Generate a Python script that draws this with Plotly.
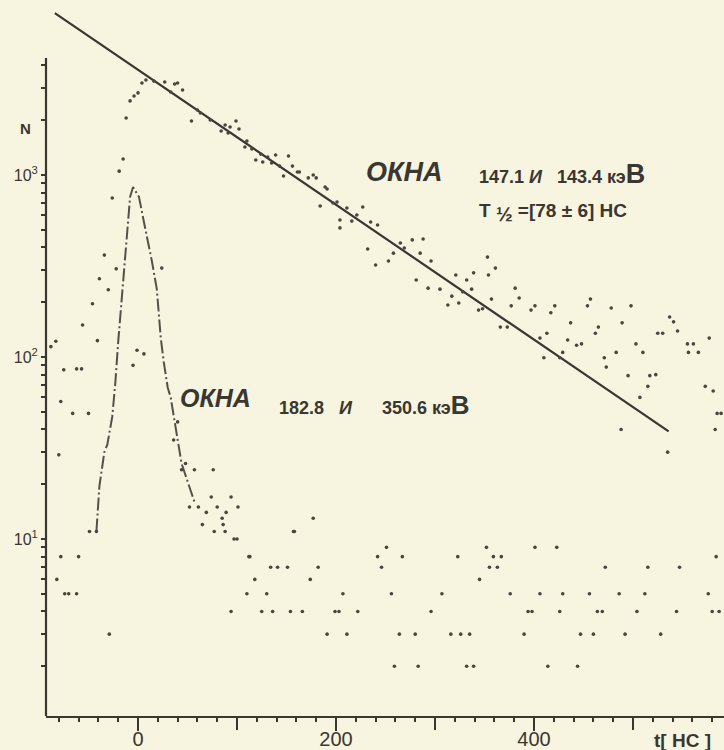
import plotly.graph_objects as go

# ---------------- data ----------------
# window 147.1 and 143.4 keV (delayed component)
decay_t = [-88, -83, -75, -62, -57, -78, -66, -50, -80, -56, -41, -46, -39, -34, -30, -22,
           -26, -19, -15, -12, -8, -4, 0, 4, 8, 16, 27, 33, 37, 40, 45,
           54, 60, 63, 73, 84, 88, 93, 99, 91, 102, 108, 110, 115, 119, 126, 124, 131, 139,
           135, 143, 147, 152, 156, 161, 163, 172, 177, 180, 184, 189, 191, 197, 201, 204,
           204, 211, 216, 221, 227, 235, 242, 232, 265, 269, 277, 288, 258, 285, 240, 253,
           296, 281, 293, 305, 313, 317, 321, 324, 328, 332, 337, 339, 344, 348, 353, 354,
           357, 361, 366, 373, 377, 381, 385, 397, 401, 406, 410, 413, 417, 421, 426, 429,
           434, 437, 443, 448, 454, 457, 462, 465, 471, 473, 478, 483, 489, 495, 498, 503,
           507, 510, 515, 517, 523, 525, 530, 537, 541, 545, 555, 561, 556, 566, 577, 573,
           581, 585, 589, 583, 488, 535]
decay_n = [114, 122, 85, 86, 86, 57, 49, 49, 29, 150, 123, 196, 269, 363, 234, 305,
           748, 1050, 1225, 2056, 2553, 2718, 2825, 3200, 3327, 3281, 3242, 2858, 3162, 3200, 2931,
           1982, 2276, 2193, 2006, 1746, 1884, 1836, 1982, 1702, 1790, 1426, 1538, 1390, 1208, 1178, 1303, 1256, 1288,
           1164, 1119, 988, 1271, 1119, 1038, 1038, 964, 1000, 964, 676, 859, 838, 702, 711, 566,
           512, 659, 558, 603, 667, 552, 531, 392, 423, 397, 440, 445, 372, 372, 320, 337,
           337, 265, 239, 236, 193, 216, 282, 198, 228, 265, 236, 290, 181, 184, 354, 282,
           208, 308, 146, 146, 191, 239, 211, 181, 191, 127, 99, 135, 175, 191, 99, 106,
           124, 154, 116, 118, 191, 208, 135, 146, 99, 88, 186, 106, 154, 79, 191, 118,
           60, 106, 69, 79, 80, 135, 135, 166, 156, 139, 118, 118, 106, 106, 127, 69,
           65, 49, 49, 40, 40, 30]

# window 182.8 and 350.6 keV (prompt component)
prompt_t = [-1, 6, -5, 24,
            -78, -60, -82, -74, -70, -62, -29, -49, -42,
            40, 36, 44, 48, 57, 76, 52, 61, 69, 74, 80, 94, 89, 101, 85, 86, 65, 77, 88, 97,
            100, 158, 110, 94, 112,
            113, 118, 125, 130, 134, 136, 141, 151, 154, 157, 166, 174, 177, 182, 191, 199,
            203, 207, 211, 222, 242, 246, 251, 256, 259, 264, 267, 280, 283, 296, 307, 316,
            323, 326, 332, 335, 339, 345, 352, 355, 359, 363,
            367, 376, 390, 394, 398, 401, 406, 414, 423, 426, 429, 444, 447, 456, 460, 464,
            469, 472, 486, 492, 504, 512, 515, 528, 544, 547, 576, 580, 584, 587]
prompt_n = [109, 104, 90, 308,
            8, 8, 6, 5, 5, 5, 3, 11, 11,
            44, 35, 24, 26, 24, 24, 15, 15, 14, 17, 15, 17, 14, 15, 13, 12, 12, 11, 11, 10,
            10, 11, 5, 4, 8,
            8, 6, 4, 5, 7, 4, 7, 7, 4, 11, 4, 6, 13, 7, 3, 4,
            4, 5, 3, 4, 8, 7, 9, 5, 2, 3, 8, 3, 2, 4, 5, 3,
            8, 3, 2, 3, 2, 6, 9, 7, 8, 7,
            8, 5, 3, 4, 4, 9, 5, 2, 9, 4, 5, 2, 3, 5, 3, 4,
            4, 7, 5, 3, 4, 5, 7, 3, 4, 7, 5, 4, 8, 4]

# hand-drawn prompt curve (dash-dot)
curve_t = [-42, -39, -34, -31, -26, -23, -20, -16, -13, -10, -8, -5, 1, 7, 14, 19, 23, 26, 30, 33, 44, 57]
curve_n = [11, 19.5, 30, 33, 47, 71, 121, 227, 333, 518, 757, 859, 757, 518, 337, 236, 127, 94, 68, 60, 26, 16]

# fitted exponential (straight line on log scale)
fit_t = [-84, 536]
fit_n = [7760, 39]

y_major = [10, 100, 1000]
y_major_text = ["10<sup>1</sup>", "10<sup>2</sup>", "10<sup>3</sup>"]
y_minor = [2, 3, 4, 5, 6, 7, 8, 9, 20, 30, 40, 50, 60, 70, 80, 90,
           200, 300, 400, 500, 600, 700, 800, 900, 2000, 3000, 4000]
x_labeled = [0, 200, 400]
x_labeled_text = ["0", "200", "400"]
x_unlabeled = [100, 300, 500]

# ---------------- styling / layout ----------------
W, H = 724, 750
ML, MR, MT, MB = 46, 0, 0, 34
INK = "#3a3631"
DOT = "#4a453f"
BG = "#F7F4DF"
PW, PH = W - ML - MR, H - MT - MB
XR = [(ML - 138) / 0.99, (W - MR - 138) / 0.99]


def paper(px, py):
    return (px - ML) / PW, (H - MB - py) / PH


fig = go.Figure()
fig.add_trace(go.Scatter(x=fit_t, y=fit_n, mode="lines",
                         line=dict(color=INK, width=2.2), hoverinfo="skip"))
fig.add_trace(go.Scatter(x=curve_t, y=curve_n, mode="lines",
                         line=dict(color="#55504a", width=2, dash="13px,3px,2px,3px"),
                         hoverinfo="skip"))
fig.add_trace(go.Scatter(x=decay_t, y=decay_n, mode="markers",
                         marker=dict(size=3.6, color=DOT)))
fig.add_trace(go.Scatter(x=prompt_t, y=prompt_n, mode="markers",
                         marker=dict(size=3.6, color=DOT)))
# invisible trace on overlay axis carrying the unlabeled long ticks
fig.add_trace(go.Scatter(x=[XR[0]], y=[10], mode="markers", xaxis="x2",
                         marker=dict(size=1, opacity=0), hoverinfo="skip"))

FONT = "Liberation Sans"
anns = []


def add_text(txt, px, py, size, xanchor="center"):
    x, y = paper(px, py)
    anns.append(dict(text=txt, x=x, y=y, xref="paper", yref="paper",
                     xanchor=xanchor, yanchor="middle", showarrow=False,
                     font=dict(family=FONT, size=size, color=INK)))


add_text("<b>N</b>", 25, 128, 15)
add_text("<b><i>ОКНА</i></b>", 404, 172, 27)
add_text("<b>147.1&nbsp;<i>И</i>&nbsp;&nbsp;&nbsp;143.4 кэ<span style='font-size:27px'>В</span></b>",
         477, 174, 18, xanchor="left")
add_text("<b>T&nbsp;<sub><span style='font-size:20px'>½</span></sub>&nbsp;=[78 ± 6]&nbsp;НС</b>",
         477, 213, 19, xanchor="left")
add_text("<b><i>ОКНА</i></b>", 215, 398, 25)
add_text("<b>182.8&nbsp;&nbsp;&nbsp;<i>И</i>&nbsp;&nbsp;&nbsp;&nbsp;&nbsp;&nbsp;350.6 кэ<span style='font-size:26px'>В</span></b>",
         277, 405, 18, xanchor="left")
add_text("<b>t[ НС ]</b>", 652, 740, 19, xanchor="left")

top_paper = paper(46, 58)[1]
fig.update_layout(
    width=W, height=H,
    margin=dict(l=ML, r=MR, t=MT, b=MB, pad=0, autoexpand=False),
    paper_bgcolor=BG, plot_bgcolor=BG,
    showlegend=False,
    annotations=anns,
    shapes=[dict(type="line", xref="paper", yref="paper", x0=0, x1=0,
                 y0=0, y1=top_paper, line=dict(color=INK, width=2.2))],
    xaxis=dict(range=XR, automargin=False,
               showgrid=False, zeroline=False,
               showline=True, linecolor=INK, linewidth=2.2,
               tickmode="array", tickvals=x_labeled, ticktext=x_labeled_text,
               ticks="outside", ticklen=13, tickwidth=2, tickcolor=INK,
               ticklabelstandoff=-9,
               minor=dict(tickmode="linear", tick0=0, dtick=20, ticks="outside",
                          ticklen=4, tickwidth=1.5, tickcolor=INK),
               tickfont=dict(family=FONT, size=20, color=INK)),
    xaxis2=dict(range=XR, overlaying="x", side="bottom", anchor="y",
                automargin=False, showgrid=False, zeroline=False, showline=False,
                tickmode="array", tickvals=x_unlabeled, showticklabels=False,
                ticks="outside", ticklen=13, tickwidth=2, tickcolor=INK),
    yaxis=dict(type="log", range=[1 - 177 / 182, 1 + 539 / 182], automargin=False,
               showgrid=False, zeroline=False, showline=False,
               tickmode="array", tickvals=y_major, ticktext=y_major_text,
               ticks="outside", ticklen=4, tickwidth=1.5, tickcolor=INK,
               minor=dict(tickmode="array", tickvals=y_minor, ticks="outside",
                          ticklen=4, tickwidth=1.5, tickcolor=INK),
               tickfont=dict(family=FONT, size=16, color=INK)),
)

fig.write_html("out.html", config={"displayModeBar": False},
               post_script="document.body.style.margin='0';document.body.style.background='" + BG + "';")
